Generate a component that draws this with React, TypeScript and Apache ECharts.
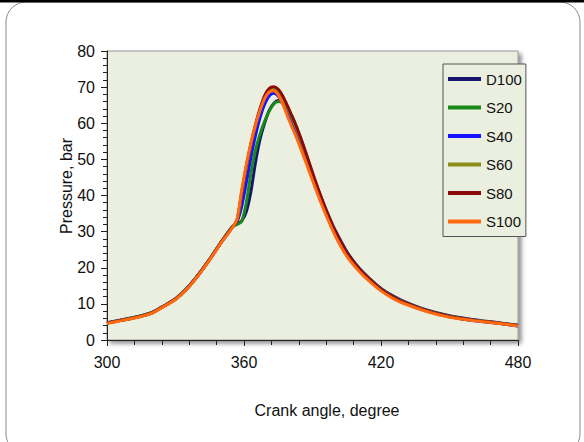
import React, { useEffect, useRef } from "react";
import * as echarts from "echarts";

const angles = [300, 305, 310, 315, 320, 325, 330, 335, 340, 345, 350, 355, 357, 359, 361, 363, 365, 367, 369, 371, 373, 375, 377, 379, 381, 383, 385, 388, 391, 394, 397, 400, 405, 410, 415, 420, 425, 430, 440, 450, 460, 470, 480];

const d100 = [4.8, 5.4, 6.0, 6.7, 7.7, 9.5, 11.4, 14.3, 18.1, 22.4, 27.1, 31.4, 32.2, 33.0, 35.5, 41.0, 49.0, 55.5, 60.0, 63.5, 65.5, 66.3, 66.0, 64.2, 61.5, 58.5, 55.0, 49.5, 44.0, 39.0, 34.5, 30.3, 24.5, 20.2, 17.0, 14.3, 12.3, 10.7, 8.3, 6.7, 5.7, 4.9, 4.1];
const s20 = [4.7, 5.3, 6.0, 6.7, 7.7, 9.4, 11.4, 14.3, 18.1, 22.4, 27.1, 31.4, 32.0, 32.8, 38.0, 46.0, 52.5, 57.0, 60.5, 63.3, 65.3, 66.0, 65.5, 63.8, 62.0, 59.0, 55.0, 49.3, 43.8, 38.6, 33.8, 29.6, 24.0, 19.9, 16.7, 14.0, 12.0, 10.4, 8.1, 6.5, 5.5, 4.8, 4.0];
const s40 = [4.7, 5.3, 5.9, 6.6, 7.6, 9.4, 11.3, 14.2, 18.0, 22.3, 27.0, 31.3, 32.8, 37.0, 43.5, 50.5, 56.5, 61.5, 65.2, 67.5, 68.3, 67.5, 65.5, 62.8, 59.8, 56.8, 53.5, 48.2, 43.0, 38.0, 33.4, 29.2, 23.7, 19.6, 16.4, 13.8, 11.8, 10.2, 8.0, 6.4, 5.4, 4.7, 3.9];
const s60 = [4.7, 5.3, 5.9, 6.6, 7.6, 9.4, 11.3, 14.2, 18.0, 22.3, 27.0, 31.3, 33.2, 40.5, 47.8, 54.0, 59.3, 63.7, 67.2, 69.2, 69.7, 68.9, 67.0, 64.4, 61.5, 58.5, 55.2, 49.8, 44.2, 39.0, 34.1, 29.8, 24.1, 19.9, 16.7, 14.0, 12.0, 10.4, 8.1, 6.5, 5.5, 4.8, 4.0];
const s80 = [4.7, 5.3, 5.9, 6.6, 7.6, 9.4, 11.3, 14.2, 18.0, 22.3, 27.0, 31.3, 33.2, 40.8, 48.0, 54.2, 59.5, 64.0, 67.6, 69.6, 70.1, 69.4, 67.5, 64.9, 62.0, 59.0, 55.7, 50.2, 44.5, 39.2, 34.3, 30.0, 24.2, 20.0, 16.8, 14.0, 12.0, 10.4, 8.1, 6.5, 5.5, 4.8, 4.0];
const s100 = [4.6, 5.2, 5.8, 6.5, 7.5, 9.3, 11.2, 14.1, 17.9, 22.2, 26.9, 31.2, 33.6, 41.5, 48.5, 54.5, 59.5, 63.5, 66.8, 68.7, 69.0, 67.8, 65.3, 62.0, 59.0, 56.0, 52.7, 47.6, 42.5, 37.5, 33.0, 28.8, 23.2, 19.3, 16.2, 13.6, 11.6, 10.1, 7.9, 6.3, 5.4, 4.7, 3.9];

const seriesNames = ["D100", "S20", "S40", "S60", "S80", "S100"];
const seriesValues = [d100, s20, s40, s60, s80, s100];
const seriesColors = ["#16166e", "#178a17", "#1414ff", "#8c8c1a", "#8b0a0a", "#ff6a10"];

const xTicks = [300, 360, 420, 480];
const yTicks = [0, 10, 20, 30, 40, 50, 60, 70, 80];

const FONT = "Liberation Sans, Arial, sans-serif";

export default function App() {
  const ref = useRef<HTMLDivElement>(null);
  useEffect(() => {
    if (!ref.current) return;
    const chart = echarts.init(ref.current, null, { renderer: "svg" });
    const series = seriesNames.map((name, i) => ({
      name,
      type: "line",
      data: angles.map((a, j) => [a, seriesValues[i][j]]),
      showSymbol: false,
      symbol: "none",
      smooth: 0.25,
      lineStyle: { color: seriesColors[i], width: 3 },
      itemStyle: { color: seriesColors[i] },
      z: 2 + i,
    }));
    chart.setOption({
      animation: false,
      backgroundColor: "#ffffff",
      textStyle: { fontFamily: FONT },
      grid: {
        left: 107,
        top: 51,
        right: 66,
        bottom: 102,
        show: true,
        backgroundColor: "#ebefdf",
        borderColor: "#9a9a9a",
        borderWidth: 1,
        shadowColor: "rgba(0,0,0,0.45)",
        shadowBlur: 4,
        shadowOffsetX: 3,
        shadowOffsetY: 3,
      },
      xAxis: {
        type: "value",
        min: xTicks[0],
        max: xTicks[xTicks.length - 1],
        interval: 60,
        axisLine: { show: true, lineStyle: { color: "#222", width: 1 } },
        axisTick: { show: true, length: 6, lineStyle: { color: "#222" } },
        minorTick: { show: true, splitNumber: 5, length: 5, lineStyle: { color: "#222" } },
        splitLine: { show: false },
        axisLabel: { color: "#111", fontSize: 16, margin: 14, fontFamily: FONT },
      },
      yAxis: {
        type: "value",
        min: yTicks[0],
        max: yTicks[yTicks.length - 1],
        interval: 10,
        axisLine: { show: true, lineStyle: { color: "#222", width: 1 } },
        axisTick: { show: true, length: 6, lineStyle: { color: "#222" } },
        minorTick: { show: true, splitNumber: 5, length: 4, lineStyle: { color: "#222" } },
        splitLine: { show: false },
        axisLabel: { color: "#111", fontSize: 16, margin: 12, fontFamily: FONT },
      },
      legend: {
        orient: "vertical",
        left: 443,
        top: 64,
        data: seriesNames,
        icon: "rect",
        itemWidth: 33,
        itemHeight: 4,
        itemGap: 12.5,
        padding: [7, 4, 7, 5],
        backgroundColor: "#ebefdf",
        borderColor: "#555",
        borderWidth: 1,
        textStyle: { fontSize: 15, lineHeight: 16, color: "#111", fontFamily: FONT },
      },
      graphic: [
        {
          type: "rect",
          shape: { x: 6, y: 2, width: 574, height: 452, r: 20 },
          style: { fill: "none", stroke: "#8a8a8a", lineWidth: 1 },
          silent: true,
          z: 0,
        },
        {
          type: "rect",
          shape: { x: 0, y: 0, width: 584, height: 2.5 },
          style: { fill: "#000" },
          silent: true,
        },
        {
          type: "text",
          x: 66,
          y: 186,
          rotation: Math.PI / 2,
          style: {
            text: "Pressure, bar",
            fill: "#111",
            font: "16px " + FONT,
            textAlign: "center",
            textVerticalAlign: "middle",
          },
        },
        {
          type: "text",
          x: 327,
          y: 410,
          style: {
            text: "Crank angle, degree",
            fill: "#111",
            font: "16px " + FONT,
            textAlign: "center",
            textVerticalAlign: "middle",
          },
        },
      ],
      series,
    });
    return () => chart.dispose();
  }, []);
  return (
    <div
      ref={ref}
      style={{ position: "fixed", left: 0, top: 0, width: 584, height: 442 }}
    />
  );
}
